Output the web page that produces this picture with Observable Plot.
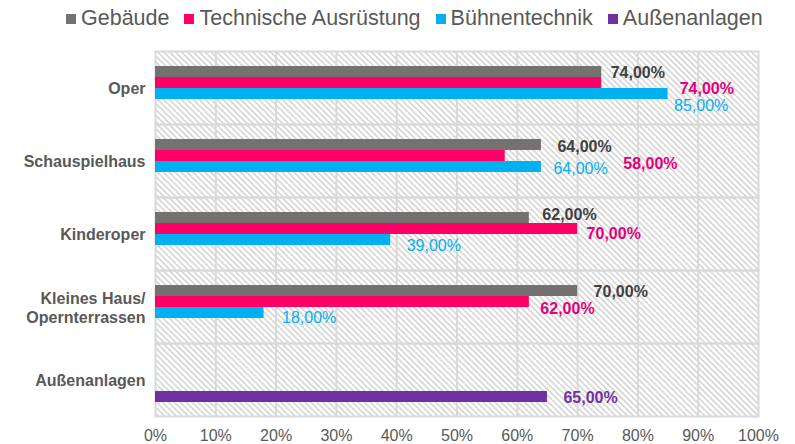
<!DOCTYPE html>
<html>
<head>
<meta charset="utf-8">
<script src="https://cdn.jsdelivr.net/npm/d3@7"></script>
<script src="https://cdn.jsdelivr.net/npm/@observablehq/plot@0.6"></script>
<style>
  html, body { margin: 0; padding: 0; background: #fff; }
  body { width: 795px; height: 444px; overflow: hidden; font-family: "Liberation Sans", Arial, sans-serif; }
  #legend { height: 36px; display: flex; align-items: center; padding-left: 66px; box-sizing: border-box; color: #595959; font-size: 21.5px; }
  #legend .item { display: flex; align-items: center; margin-right: 15px; }
  #legend .sw { width: 10px; height: 10px; margin-right: 5px; margin-top: 2px; }
</style>
</head>
<body>
<div id="legend"></div>
<div id="chart"></div>
<script>
// ---- data ----
const categories = ["Oper", "Schauspielhaus", "Kinderoper", "Kleines Haus/\nOpernterrassen", "Außenanlagen"];
const series = ["Gebäude", "Technische Ausrüstung", "Bühnentechnik", "Außenanlagen"];
const gebaeude = [0.74, 0.64, 0.62, 0.70, null];
const technischeAusruestung = [0.74, 0.58, 0.70, 0.62, null];
const buehnentechnik = [0.85, 0.64, 0.39, 0.18, null];
const aussenanlagen = [null, null, null, null, 0.65];
const xTicks = [0, 0.1, 0.2, 0.3, 0.4, 0.5, 0.6, 0.7, 0.8, 0.9, 1];

// ---- styles ----
const barColors = ["#767171", "#ff0066", "#00b0f0", "#7030a0"];
const labelColors = ["#404040", "#e3007d", "#00b0f0", "#7030a0"];
const labelWeights = ["bold", "bold", "normal", "bold"];
// label nudges (px) per series, per category, mimicking the reference's label placement
const labelNudge = [
  [[9, 1], [16, 1.5], [13, -3], [16, 0.7], null],
  [[78, 6], [118, 7.7], [9, 4.7], [11, 6.5], null],
  [[6, 11.5], [12, 2.3], [16, 6], [18, 5], null],
  [null, null, null, null, [16, 1]]
];

const allValues = [gebaeude, technischeAusruestung, buehnentechnik, aussenanlagen];
const rows = [];
allValues.forEach((vals, si) => vals.forEach((v, ci) => {
  if (v != null) rows.push({cat: categories[ci], series: series[si], value: v, si, ci});
}));

const fmt = v => (v * 100).toFixed(2).replace(".", ",") + "%";

// legend
const legend = document.getElementById("legend");
series.forEach((s, i) => {
  const it = document.createElement("div");
  it.className = "item";
  it.innerHTML = `<span class="sw" style="background:${barColors[i]}"></span><span>${s}</span>`;
  legend.appendChild(it);
});

const labelMarks = rows.map(r => {
  const [dx, dy] = labelNudge[r.si][r.ci];
  return Plot.text([r], {
    x: "value", y: "series", fy: "cat",
    text: d => fmt(d.value),
    textAnchor: "start", dx, dy,
    fill: labelColors[r.si], fontWeight: labelWeights[r.si], fontSize: 16
  });
});

const plot = Plot.plot({
  width: 795,
  height: 408,
  marginTop: 13,
  marginBottom: 26,
  marginLeft: 155,
  marginRight: 37,
  style: {fontFamily: "'Liberation Sans', Arial, sans-serif", background: "transparent"},
  x: {domain: [0, 1], axis: null},
  y: {domain: series, paddingInner: 0, paddingOuter: 1.3, axis: null},
  fy: {domain: categories, padding: 0, label: null},
  color: {domain: series, range: barColors},
  marks: [
    Plot.frame({fill: "url(#hatch)", stroke: null}),
    Plot.ruleX(xTicks.slice(1, -1), {stroke: "#d9d9d9", strokeWidth: 2}),
    Plot.frame({stroke: "#d9d9d9", strokeWidth: 2, fill: "none"}),
    Plot.barX(rows, {x: "value", y: "series", fy: "cat", fill: "series", insetTop: 0, insetBottom: 0}),
    ...labelMarks,
    Plot.axisFy({anchor: "left", label: null, tickSize: 0, tickPadding: 10, fontSize: 16, fontWeight: "bold", fill: "#595959", lineHeight: 1.22}),
    Plot.axisX({anchor: "bottom", ticks: xTicks, tickFormat: d3.format(".0%"), tickSize: 0, tickPadding: 13, fontSize: 16, fill: "#595959", label: null})
  ]
});

// hatch pattern definition
const svgSel = d3.select(plot.tagName.toLowerCase() === "svg" ? plot : plot.querySelector("svg"));
const defs = svgSel.insert("defs", ":first-child");
const pat = defs.append("pattern")
  .attr("id", "hatch").attr("patternUnits", "userSpaceOnUse")
  .attr("width", 4.2).attr("height", 4.2)
  .attr("patternTransform", "rotate(-45)");
pat.append("rect").attr("width", 4.2).attr("height", 4.2).attr("fill", "#fff");
pat.append("line").attr("x1", 0.8).attr("y1", 0).attr("x2", 0.8).attr("y2", 4.2)
  .attr("stroke", "#d2d2d2").attr("stroke-width", 1.5);

document.getElementById("chart").appendChild(plot);
</script>
</body>
</html>
